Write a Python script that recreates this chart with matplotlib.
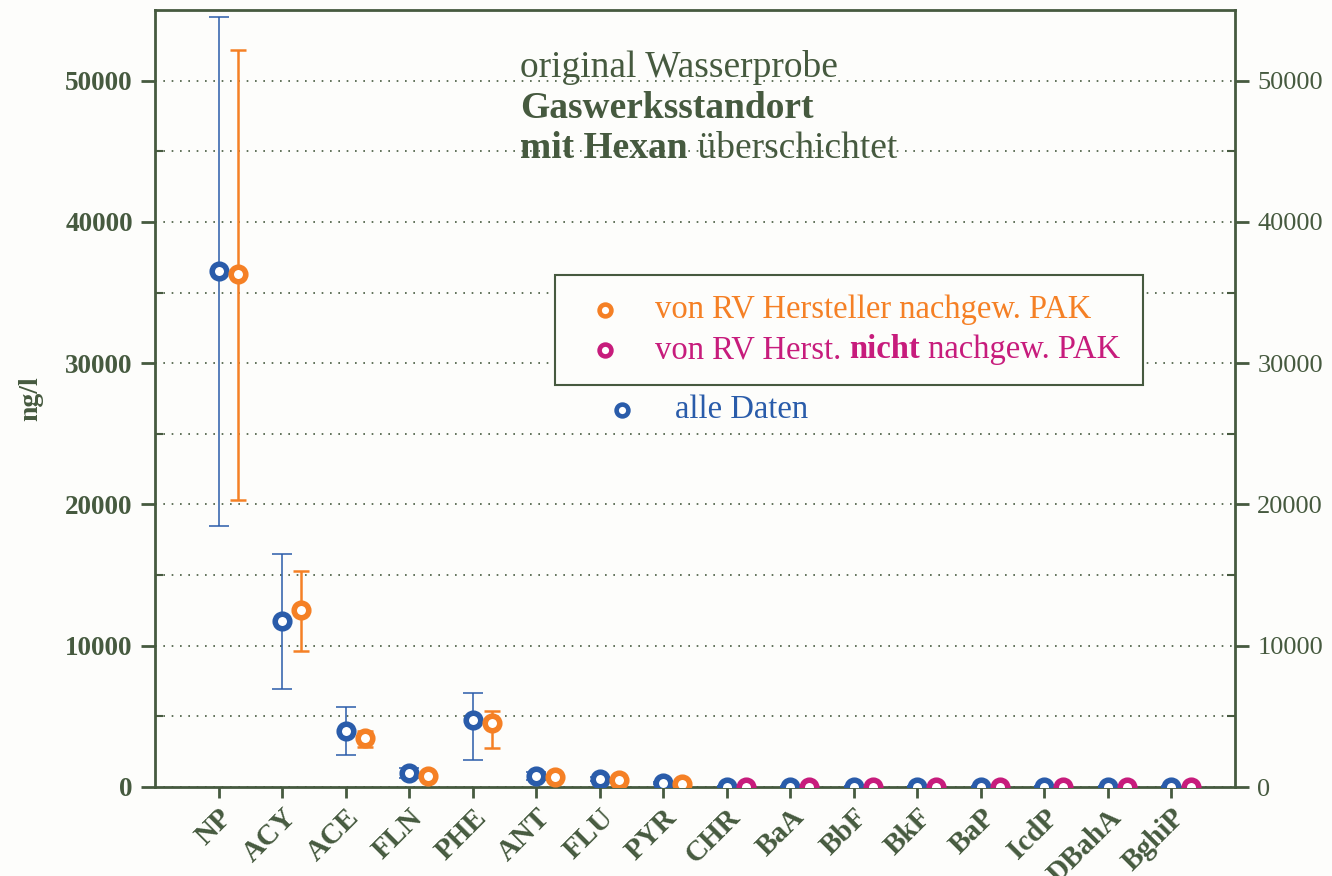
import matplotlib.pyplot as plt
import numpy as np
from matplotlib.patches import Rectangle
from matplotlib.lines import Line2D

# %% data
labels = ["NP", "ACY", "ACE", "FLN", "PHE", "ANT", "FLU", "PYR",
          "CHR", "BaA", "BbF", "BkF", "BaP", "IcdP", "DBahA", "BghiP"]
all_mean = [36500, 11750, 3970, 990, 4750, 780, 570, 280,
            30, 30, 30, 30, 30, 30, 30, 30]
all_low = [18500, 6950, 2270, 650, 1900, 480, 450, 220,
           20, 20, 20, 20, 20, 20, 20, 20]
all_high = [54500, 16500, 5670, 1350, 6650, 1080, 690, 340,
            40, 40, 40, 40, 40, 40, 40, 40]
# von RV Hersteller nachgewiesen (first 8) / nicht nachgewiesen (last 8)
rv_mean = [36300, 12500, 3470, 780, 4530, 700, 500, 200]
rv_low = [20300, 9650, 2830, 650, 2760, 420, 400, 150]
rv_high = [52200, 15300, 3970, 910, 5380, 980, 600, 250]
nrv_mean = [20, 20, 20, 20, 20, 20, 20, 20]

# %% style
green = "#465A3F"
blue = "#2A5CAA"
orange = "#F58025"
magenta = "#C71C7C"
bg = "#FDFDFB"
plt.rcParams["font.family"] = ["Liberation Serif", "DejaVu Serif"]

fig = plt.figure(figsize=(13.32, 8.76), dpi=100, facecolor=bg)
ax = fig.add_axes([155 / 1332, 1 - 787 / 876, 1080 / 1332, 777 / 876])
ax.set_facecolor(bg)

x = np.arange(len(labels))
x_rv = x[:8] + 0.3
x_nrv = x[8:] + 0.3

mk = dict(marker="o", ms=10.5, mew=4, mfc="white", linestyle="none", zorder=5)
ax.errorbar(x, all_mean, yerr=[np.subtract(all_mean, all_low), np.subtract(all_high, all_mean)],
            fmt="none", ecolor=blue, elinewidth=1.1, capsize=7, capthick=1.1, zorder=4)
ax.errorbar(x_rv, rv_mean, yerr=[np.subtract(rv_mean, rv_low), np.subtract(rv_high, rv_mean)],
            fmt="none", ecolor=orange, elinewidth=1.8, capsize=6, capthick=1.8, zorder=4)
ax.plot(x, all_mean, color=blue, **mk)
ax.plot(x_rv, rv_mean, color=orange, **mk)
ax.plot(x_nrv, nrv_mean, color=magenta, **mk)

ax.set_xlim(-1, 16)
ax.set_ylim(0, 55000)
ax.set_yticks(np.arange(0, 55000, 10000))
ax.set_yticks(np.arange(5000, 55000, 10000), minor=True)
ax.yaxis.grid(True, which="both", linestyle=(0, (1, 4)), color=green, linewidth=1.2)
ax.set_axisbelow(True)

for s in ax.spines.values():
    s.set_color(green)
    s.set_linewidth(2)

ax.set_xticks(x)
ax.set_xticklabels(labels, rotation=45, ha="right", rotation_mode="anchor",
                   fontsize=21, fontweight="bold", color=green)
ax.tick_params(axis="x", direction="out", length=8, width=2, color=green, pad=4)
ax.tick_params(axis="y", which="major", direction="out", length=10, width=2, color=green,
               labelcolor=green, right=True, labelright=True, pad=6)
ax.tick_params(axis="y", which="minor", direction="in", length=6, width=1.5, color=green,
               right=True)
for tk in ax.yaxis.get_major_ticks():
    tk.label1.set_fontweight("bold")
    tk.label1.set_fontsize(19.5)
    tk.label2.set_fontweight("normal")
    tk.label2.set_fontsize(19)
ax.set_ylabel("ng/l", fontsize=20, fontweight="bold", color=green, labelpad=16)

# %% title text
fs = 27
fig.text(520 / 1332, 1 - 77 / 876, "original Wasserprobe", fontsize=fs, color=green, va="baseline")
fig.text(520 / 1332, 1 - 118 / 876, "Gaswerksstandort", fontsize=fs,
         fontweight="bold", color=green, va="baseline")
t3 = fig.text(520 / 1332, 1 - 158 / 876, "mit Hexan", fontsize=fs,
              fontweight="bold", color=green, va="baseline")
ax.annotate(" überschichtet", xy=(1, 0), xycoords=t3, va="bottom", ha="left",
            fontsize=fs, color=green, annotation_clip=False)

# %% legend
ax.add_patch(Rectangle((555 / 1332, 1 - 385 / 876), 588 / 1332, 110 / 876,
                       transform=fig.transFigure, fill=True, facecolor=bg,
                       edgecolor=green, linewidth=1.5, zorder=6))
lfs = 23.5
for xp, yp, c in [(605, 310, orange), (605, 350, magenta), (622, 410, blue)]:
    fig.lines.append(Line2D([xp / 1332], [1 - yp / 876], transform=fig.transFigure,
                            color=c, marker="o", ms=8.5, mew=3.3, mfc="white", zorder=7))
fig.text(655 / 1332, 1 - 310 / 876, "von RV Hersteller nachgew. PAK", fontsize=lfs,
         color=orange, va="center", zorder=7)
p1 = fig.text(655 / 1332, 1 - 350 / 876, "von RV Herst. ", fontsize=lfs,
              color=magenta, va="center", zorder=7)
a2 = ax.annotate("nicht", xy=(1, 0), xycoords=p1, va="bottom", ha="left", fontsize=lfs,
                 fontweight="bold", color=magenta, zorder=7, annotation_clip=False)
ax.annotate(" nachgew. PAK", xy=(1, 0), xycoords=a2, va="bottom", ha="left", fontsize=lfs,
            color=magenta, zorder=7, annotation_clip=False)
fig.text(675 / 1332, 1 - 410 / 876, "alle Daten", fontsize=lfs, color=blue, va="center", zorder=7)

plt.savefig("out.png", dpi=100, facecolor=bg)
plt.close()
